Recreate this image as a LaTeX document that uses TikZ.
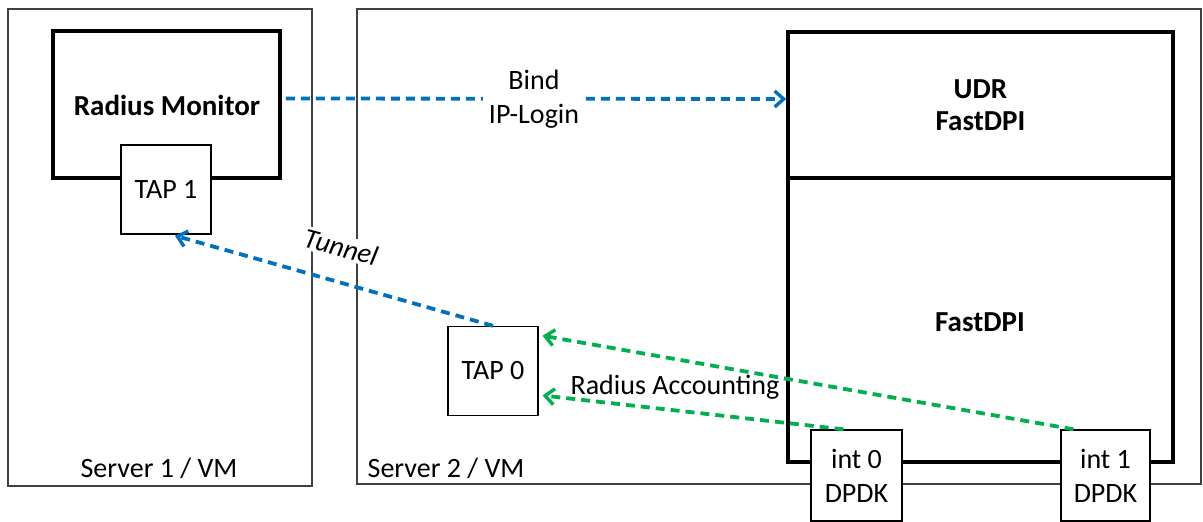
\documentclass[tikz,border=0pt]{standalone}
\usepackage{fontspec}
\setmainfont{Carlito}
\usetikzlibrary{arrows.meta,positioning}
\definecolor{blueln}{RGB}{0,112,192}
\definecolor{greenln}{RGB}{0,176,80}
\definecolor{frame}{RGB}{64,64,64}
\begin{document}
\begin{tikzpicture}[x=1pt,y=-1pt,
  server/.style={draw=frame,line width=1.6pt},
  bigbox/.style={draw=black,line width=3.6pt,rectangle,inner sep=0pt,align=center,
     font=\fontsize{29}{32}\selectfont\bfseries},
  boldtxt/.style={font=\fontsize{29}{32}\selectfont\bfseries,inner sep=0pt},
  smallbox/.style={draw=black,line width=1.3pt,fill=white,rectangle,inner sep=0pt,align=center,
     minimum width=90pt,minimum height=89pt,font=\fontsize{28}{34}\selectfont},
  lbl/.style={font=\fontsize{28}{34}\selectfont,align=center,inner sep=2pt},
  dashblue/.style={draw=blueln,line width=3.8pt,dash pattern=on 9pt off 6pt,
     -{Straight Barb[length=9pt,width=16pt,line width=3.4pt]}},
  dashgreen/.style={draw=greenln,line width=3.8pt,dash pattern=on 9pt off 6pt,
     -{Straight Barb[length=9pt,width=16pt,line width=3.4pt]}}
  ]
\useasboundingbox (0,0) rectangle (1203,522);
% servers
\node[server,rectangle,minimum width=304pt,minimum height=477pt,inner sep=0pt] (s1) at (160,247.5) {};
\node[server,rectangle,minimum width=844pt,minimum height=475pt,inner sep=0pt] (s2) at (779,246.5) {};
\node[lbl,anchor=base] (s1l) at (159,477) {Server 1 / VM};
\node[lbl,anchor=base] (s2l) at (446,477) {Server 2 / VM};
% big boxes
\node[bigbox,minimum width=227pt,minimum height=147pt] (rm) at (166.5,104.5) {};
\node[boldtxt] (rmt) at (167,105) {Radius Monitor};
\node[bigbox,minimum width=385pt,minimum height=146pt] (udr) at (980.5,105) {UDR\\FastDPI};
\node[bigbox,minimum width=385pt,minimum height=284pt] (fdpi) at (980.5,320) {};
\node[boldtxt] (fdpit) at (980,322) {FastDPI};
% small boxes
\node[smallbox] (tap1) at (166,189.5) {TAP 1};
\node[smallbox] (tap0) at (493,371) {TAP 0};
\node[smallbox,minimum width=91pt,minimum height=91pt] (int0) at (856.5,475.5) {int 0\\DPDK};
\node[smallbox,minimum width=89pt,minimum height=91pt] (int1) at (1105.5,475.5) {int 1\\DPDK};
% arrows
\draw[dashblue,shorten <=4pt] ([yshift=6pt]rm.east) -- ([yshift=6pt]udr.west)
  node[midway,fill=white,lbl,inner xsep=6pt,inner ysep=0pt] (bind) {Bind\\IP-Login};
\draw[dashblue] (tap0.north) -- ([xshift=9pt,yshift=-1pt]tap1.south);
\node[fill=white,font=\fontsize{28}{32}\selectfont\itshape,rotate=-15,inner sep=2pt] (tun) at (341,247) {Tunnel};
\draw[dashgreen,shorten >=4pt] ([xshift=-32pt]int1.north) -- ([yshift=36pt]tap0.east);
\draw[dashgreen,shorten >=4pt] ([xshift=-13pt]int0.north) -- ([yshift=-24pt]tap0.east);
\node[lbl,anchor=base] (ra) at (675,394) {Radius Accounting};
\end{tikzpicture}
\end{document}
